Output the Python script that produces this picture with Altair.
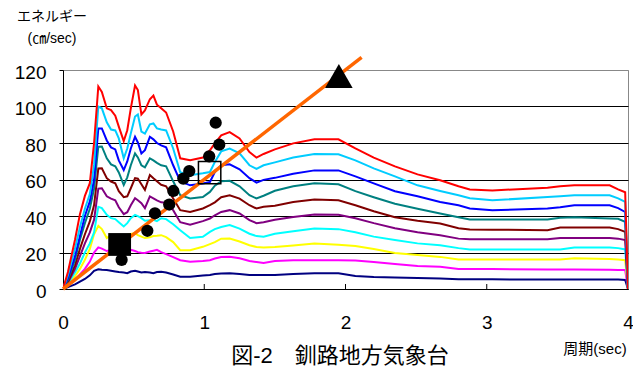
import altair as alt
import pandas as pd

# Period (sec) sample points shared by all spectra
PERIOD = [0, 0.035, 0.085, 0.12, 0.155, 0.19, 0.22, 0.25, 0.275, 0.31, 0.34, 0.37, 0.395, 0.43, 0.455, 0.48,
          0.51, 0.53, 0.555, 0.58, 0.615, 0.64, 0.665, 0.695, 0.73, 0.78, 0.83, 0.90, 0.99, 1.04, 1.075, 1.12,
          1.18, 1.25, 1.32, 1.37, 1.42, 1.50, 1.63, 1.78, 1.95, 2.07, 2.20, 2.35, 2.51, 2.67, 2.80, 2.88,
          3.04, 3.43, 3.52, 3.62, 3.87, 3.93, 3.98, 4.0]

RED = [0, 9.3, 27, 41, 51, 58, 80, 111, 108, 99, 98, 95, 89, 81, 87, 99,
       111.5, 109, 95.6, 97.8, 104, 106, 101, 99, 96.7, 86.3, 71.6, 70.5, 72, 76, 79.8, 84.2,
       86, 82.5, 75, 72, 74, 76.5, 79.8, 82, 82, 77, 72, 67.2, 62.8, 59.6, 56.3, 54.5,
       54, 55.5, 56.3, 56.8, 56.8, 54.6, 53, 0]
SKY = [0, 7.7, 22, 34, 44, 52, 68, 100, 99, 91.3, 87.4, 86.9, 82.5, 71.6, 77, 85.2,
       94.5, 95.6, 86.3, 85.2, 90.2, 90.7, 88, 87.4, 86.9, 77, 64, 62.3, 63.4, 64.1, 69.6, 75.4,
       76.9, 74.3, 67.8, 65.8, 67.8, 69.4, 72.1, 74, 73.8, 70.5, 66.1, 61.7, 56.8, 53.7, 51.4, 49.7,
       48.6, 50.4, 50.8, 51.4, 51.4, 49.7, 47.7, 0]
BLUE = [0, 6, 18, 29, 40, 48, 60, 88, 88, 81.4, 77.6, 76.5, 70.5, 65.2, 69.9, 77,
        83.4, 80.3, 74.3, 76.1, 83.4, 82, 80, 78.7, 77.6, 67.8, 59, 56.8, 57.8, 58.6, 64.1, 67.8,
        68.3, 65.6, 60.7, 58.3, 59.8, 60.9, 63.2, 65, 65, 61.7, 57.9, 53.6, 50.8, 47.7, 45.9, 44.1,
        43.2, 44.1, 44.8, 45.9, 45.9, 44.3, 42.2, 0]
TEAL = [0, 5, 16, 27, 36, 44, 55, 78, 78.1, 71.6, 68.3, 67.2, 63.9, 57, 61.2, 67.8,
        74.3, 72.1, 67.8, 66.7, 71.6, 70.5, 69.1, 67.8, 67.2, 59, 51.4, 49.6, 50.4, 53.2, 56.6, 59,
        59.3, 56.3, 51.4, 49.6, 51.1, 53.8, 56.3, 57.9, 57.4, 53.6, 50.3, 46.7, 44, 41.4, 39.3, 38.1,
        38.1, 38.1, 39, 39.3, 38.6, 38.5, 36.8, 0]
MAROON = [0, 4, 13, 22, 30, 37, 46, 66, 66.1, 60.7, 58.9, 57.9, 53.6, 50.3, 50.8, 55.2,
          60.7, 60.4, 57.4, 54.3, 62.5, 60.7, 59, 57.1, 56.3, 49.6, 43.2, 42.2, 44.1, 45.9, 47.5, 50.3,
          51.4, 49.5, 45.9, 44.1, 45.1, 45.6, 47.7, 49, 48.6, 45.9, 42.6, 39.3, 37.4, 35.9, 33.3, 32.6,
          32.5, 32.2, 33.7, 33.7, 33.7, 32.8, 31.3, 0]
PURPLE = [0, 3.5, 11, 18, 25, 31, 38, 55, 55.2, 50.8, 49.5, 48.6, 44.8, 41, 42.1, 45.9,
          49.7, 48.6, 47, 44.3, 50.7, 49.7, 48.6, 47.5, 47.3, 43.2, 36.6, 35.2, 37.2, 38.6, 40.4, 42.2,
          43.2, 41.4, 37.7, 36.1, 36.6, 38, 39.5, 40.8, 40.7, 38.8, 36.1, 33.3, 31.1, 29.5, 27.6, 27.2,
          27.2, 27.2, 27.9, 28, 28, 27.6, 26.8, 0]
CYAN = [0, 3, 9, 14, 20, 25, 31, 45, 44.3, 40.6, 38.8, 38.3, 36.6, 34.3, 36.1, 38.8,
        40.6, 39.9, 38.8, 37.4, 37.7, 37.9, 37.2, 38.8, 38.3, 35.5, 32.2, 27.9, 28.6, 31.3, 32.8, 34,
        35, 33.1, 30.3, 29, 28.7, 30.3, 31.7, 33.1, 32.8, 31.1, 28.7, 26.8, 25, 24, 22.4, 21.7,
        21.7, 21.7, 21.7, 22.8, 22.8, 22.4, 21.7, 0]
YELLOW = [0, 2.5, 7, 11, 16, 22, 30, 34.6, 32.8, 27.9, 29.5, 29, 27.9, 28.4, 29.7, 30.1,
          30.6, 29.5, 28.7, 27.9, 28.4, 29, 29.2, 29.5, 28.4, 25.7, 21.3, 21.3, 23.1, 24.6, 25.7, 27.6,
          27.7, 26, 24, 23, 22.7, 23, 23.8, 24.9, 24.3, 23.5, 21.9, 19.7, 18.6, 17.6, 16.2, 16.2,
          16.2, 16.2, 16.2, 16.9, 16.4, 16.1, 15.8, 0]
MAGENTA = [0, 2, 5, 8, 11, 15, 20, 22.8, 22.1, 20.8, 21.3, 20.8, 20.2, 19.7, 20.8, 21.5,
           20.8, 20.2, 19.9, 19.7, 20.5, 21, 21.5, 20.2, 19.1, 17.5, 15.8, 15, 15.3, 15.8, 16.7, 17.5,
           17.7, 16.8, 15.3, 14.8, 14.2, 15.3, 15.8, 15.8, 15.8, 15.6, 14.8, 13.7, 12.6, 12.2, 10.9, 10.9,
           10.9, 10.7, 10.7, 10.7, 10.5, 10.4, 10.4, 0]
NAVY = [0, 1, 2.5, 4, 5.5, 7.5, 10, 10.8, 10.5, 10.4, 10, 9.6, 9.3, 9, 8.7, 9.6,
        10, 9.6, 9, 9.3, 9, 8.7, 9.3, 9.5, 9, 7.9, 6.7, 6.7, 7.4, 7.7, 8.2, 8.5,
        8.6, 8.2, 7.7, 7.7, 7.7, 7.7, 8.2, 8.6, 8.6, 7.1, 6.6, 6.3, 6, 5.8, 5.3, 5.3,
        5.3, 5.2, 5.2, 5.2, 5.2, 5.2, 4.9, 0]

SERIES_NAMES = ["navy", "magenta", "yellow", "cyan", "purple", "maroon", "teal", "blue", "sky", "red"]
SERIES_VALUES = [NAVY, MAGENTA, YELLOW, CYAN, PURPLE, MAROON, TEAL, BLUE, SKY, RED]
SERIES_COLORS = ["#000080", "#FF00FF", "#FFFF00", "#00FFFF", "#800080", "#800000",
                 "#008080", "#0000FF", "#00CCFF", "#FF0000"]

# Orange reference line (end points)
LINE_X = [0, 2.114]
LINE_Y = [0, 126.9]

# Black dots
DOT_X = [0.415, 0.597, 0.651, 0.752, 0.781, 0.852, 0.894, 1.035, 1.106, 1.081]
DOT_Y = [16.0, 31.9, 41.5, 46.3, 53.7, 60.5, 64.6, 72.7, 79.1, 91.1]

# Special markers
FSQ_X, FSQ_Y = [0.401], [24.4]
OSQ_X, OSQ_Y = [1.038], [63.8]
TRI_X, TRI_Y = [1.953], [116.7]

X_TICKS = [0, 1, 2, 3, 4]
Y_TICKS = [0, 20, 40, 60, 80, 100, 120]
INNER_TICKS = [1, 2, 3]

TITLE = "図-2　釧路地方気象台"
X_TITLE = "周期(sec)"
Y_TITLE_1 = "エネルギー"
Y_TITLE_2 = "(㎝/sec)"

LATIN = "Liberation Sans, Arial, Noto Sans CJK JP"
CJK = "Liberation Sans, Noto Sans CJK JP"

W, H = 565, 219

xs = alt.Scale(domain=[0, 4], nice=False)
ys = alt.Scale(domain=[0, 120], nice=False)

x_axis = alt.Axis(values=X_TICKS, format="d", ticks=False, grid=False, labelFontSize=19, labelFont=LATIN,
                  labelColor="black", labelPadding=24, domainColor="black", title=None,
                  labelFlush=False, labelOverlap=False)
y_axis = alt.Axis(values=Y_TICKS, format="d", tickSize=4, tickColor="black", labelFontSize=19,
                  labelFont=LATIN, labelColor="black", labelPadding=13, domainColor="black", title=None,
                  labelOverlap=False,
                  grid=True, gridColor={"condition": {"test": "datum.value === 120", "value": "#888888"},
                                        "value": "black"},
                  gridOpacity=1, labelOffset=2)

X_ENC = alt.X("period:Q", scale=xs, axis=x_axis)
Y_ENC = alt.Y("energy:Q", scale=ys, axis=y_axis)

rows = []
for name, vals in zip(SERIES_NAMES, SERIES_VALUES):
    for p, v in zip(PERIOD, vals):
        rows.append({"series": name, "period": p, "energy": v})
df = pd.DataFrame(rows)

layers = []

for name, color in zip(SERIES_NAMES, SERIES_COLORS):
    layers.append(
        alt.Chart(df[df.series == name]).mark_line(color=color, strokeWidth=2, clip=True).encode(
            x=X_ENC, y=Y_ENC, order="period:Q",
        )
    )

layers.append(
    alt.Chart(pd.DataFrame({"period": LINE_X, "energy": LINE_Y})).mark_line(
        color="#FF6600", strokeWidth=3.5).encode(x=X_ENC, y=Y_ENC)
)

layers.append(
    alt.Chart(pd.DataFrame({"period": DOT_X, "energy": DOT_Y})).mark_point(
        shape="circle", filled=True, color="black", size=150, opacity=1).encode(x=X_ENC, y=Y_ENC)
)
layers.append(
    alt.Chart(pd.DataFrame({"period": FSQ_X, "energy": FSQ_Y})).mark_point(
        shape="square", filled=True, color="black", size=520, opacity=1).encode(x=X_ENC, y=Y_ENC)
)
layers.append(
    alt.Chart(pd.DataFrame({"period": OSQ_X, "energy": OSQ_Y})).mark_point(
        shape="square", filled=False, color="black", size=500, strokeWidth=1.5, opacity=1).encode(
        x=X_ENC, y=Y_ENC)
)
layers.append(
    alt.Chart(pd.DataFrame({"period": TRI_X, "energy": TRI_Y})).mark_point(
        shape="triangle-up", filled=True, color="black", size=760, opacity=1).encode(x=X_ENC, y=Y_ENC)
)

# inner x ticks
layers.append(
    alt.Chart(pd.DataFrame({"period": INNER_TICKS})).mark_rule(color="black", strokeWidth=1).encode(
        x=X_ENC, y=alt.value(H), y2=alt.value(H - 5))
)

# texts
def text_layer(txt, x, y, size, align="center"):
    return alt.Chart(pd.DataFrame({"t": [txt]})).mark_text(
        fontSize=size, font=CJK, color="black", align=align, baseline="middle").encode(
        text="t:N", x=alt.value(x), y=alt.value(y))

layers.append(text_layer(TITLE, 277, 286, 22))
layers.append(text_layer(X_TITLE, 532, 279, 15))
layers.append(text_layer(Y_TITLE_1, -11, -53, 14))
layers.append(text_layer(Y_TITLE_2, -11, -31, 14))

chart = alt.layer(*layers).properties(
    width=W, height=H,
    autosize=alt.AutoSizeParams(type="none"),
    padding={"left": 55, "top": 62, "right": 5, "bottom": 78},
    background="white",
).configure_view(stroke="#888888", strokeWidth=1)

chart.save("out.html", embed_options={"renderer": "svg", "actions": False})
